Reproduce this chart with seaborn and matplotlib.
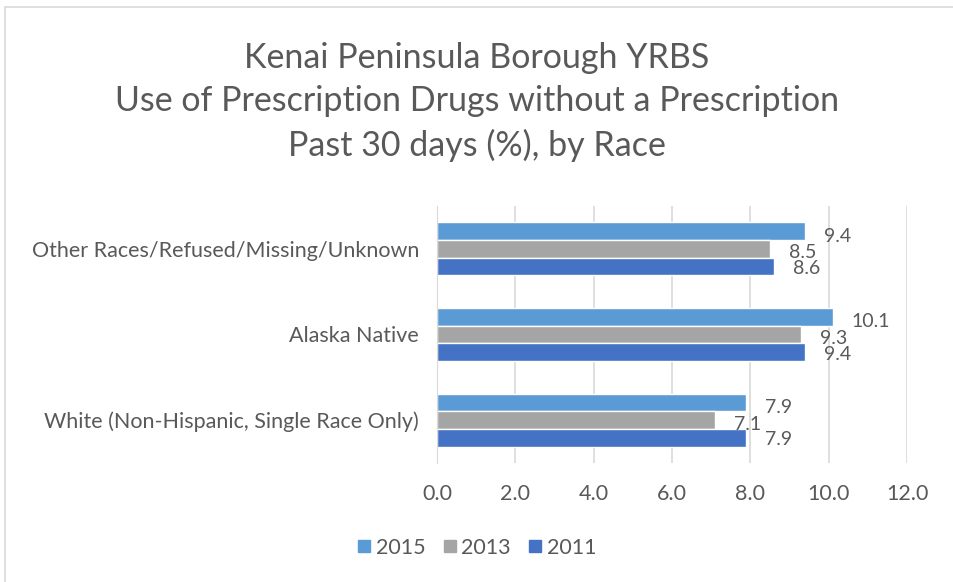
## arrays and tables
import numpy as np
import pandas as pd
## visualisation
import matplotlib
matplotlib.use('Agg')
from matplotlib import pyplot as plt
from matplotlib.lines import Line2D
import seaborn as sns

## values
races = [
    'Other Races/Refused/Missing/Unknown',
    'Alaska Native',
    'White (Non-Hispanic, Single Race Only)',
]
years = ['2015', '2013', '2011']
pct_2015 = [9.4, 10.1, 7.9]
pct_2013 = [8.5, 9.3, 7.1]
pct_2011 = [8.6, 9.4, 7.9]
colours = ['#5B9BD5', '#A5A5A5', '#4472C4']
grey = '#595959'

d = pd.DataFrame({
    'race': races * 3,
    'year': [y for y in years for _ in races],
    'pct': pct_2015 + pct_2013 + pct_2011,
})

sns.set_style('white')
plt.rcParams['font.family'] = ['Lato', 'DejaVu Sans']

fig = plt.figure(figsize=(9.54, 5.82), dpi=100)
ax = fig.add_axes([437/954, 1-463/582, 470/954, 257/582])
sns.barplot(
    data=d, x='pct', y='race', hue='year',
    order=races, hue_order=years, palette=colours,
    orient='h', width=0.62, gap=0, legend=False, ax=ax,
    saturation=1,
)

## data labels, nudged down a little like the original
shift = [5, 4, 2]
for i, cont in enumerate(ax.containers):
    for bar, v in zip(cont, cont.datavalues):
        ax.annotate(f'{v:.1f}', (bar.get_width(), bar.get_y() + bar.get_height()/2),
                    xytext=(19, -shift[i]), textcoords='offset pixels',
                    ha='left', va='center', fontsize=14, color=grey)

ax.set_xlim(0, 12)
ax.set_xticks(np.arange(0, 13, 2))
ax.set_xticklabels([f'{t:.1f}' for t in np.arange(0, 13, 2)])
ax.grid(axis='x', color='#D9D9D9', lw=1.2)
ax.set_axisbelow(True)
for s in ax.spines.values():
    s.set_visible(False)
ax.spines['left'].set_visible(True)
ax.spines['left'].set_color('#D9D9D9')
ax.tick_params(axis='both', length=0, colors=grey, labelsize=15.5)
ax.tick_params(axis='x', pad=15)
ax.tick_params(axis='y', pad=13)
ax.set_xlabel('')
ax.set_ylabel('')

fig.text(0.5, 1-102/582, 'Kenai Peninsula Borough YRBS\nUse of Prescription Drugs without a Prescription\nPast 30 days (%), by Race',
         ha='center', va='center', fontsize=24.5, color=grey, linespacing=1.42)

handles = [Line2D([], [], marker='s', ls='', color=c, markersize=8) for c in colours]
fig.legend(handles, years, loc='center', bbox_to_anchor=(0.5, 1-548/582), ncol=3,
           frameon=False, fontsize=15.5, labelcolor=grey, handlelength=0.6,
           handletextpad=0.25, columnspacing=0.8)

## outer chart border (left and top only visible)
fig.add_artist(Line2D([5/954, 5/954], [0, 1-7/582], color='#D9D9D9', lw=1.2))
fig.add_artist(Line2D([5/954, 1], [1-7/582, 1-7/582], color='#D9D9D9', lw=1.2))

fig.savefig('out.png', dpi=100)
